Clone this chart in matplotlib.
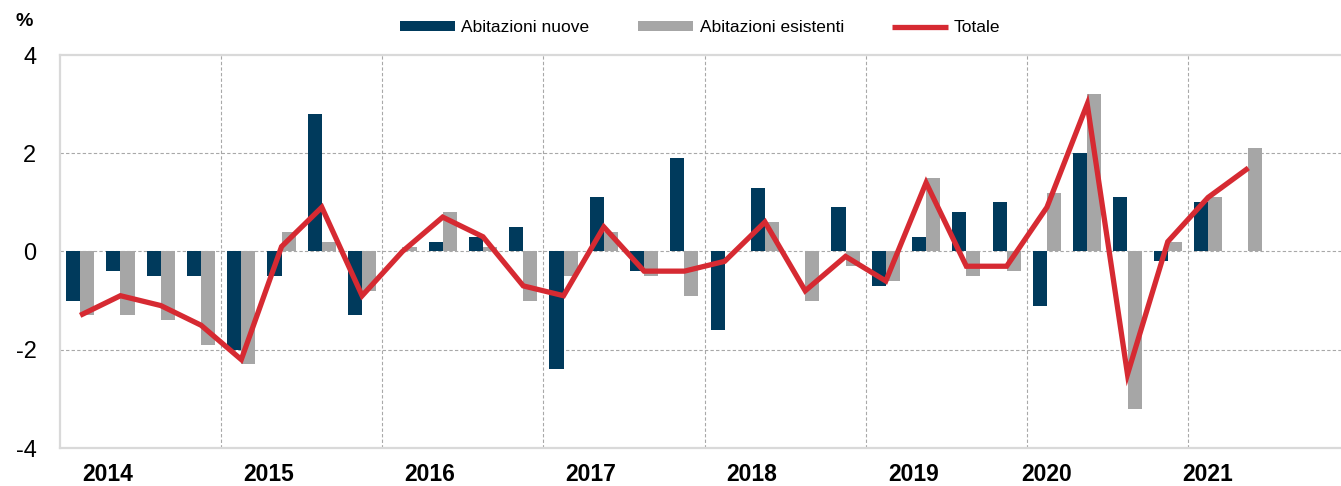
"""Variazioni trimestrali dei prezzi delle abitazioni: nuove, esistenti e totale."""
import matplotlib
matplotlib.use("Agg")
import matplotlib.pyplot as plt
import numpy as np

# categorie: trimestri 2014T1 - 2021T2
years = ["2014", "2015", "2016", "2017", "2018", "2019", "2020", "2021"]
quarters = [f"{y}T{q}" for y in years for q in range(1, 5)][:30]

nuove = [-1.0, -0.4, -0.5, -0.5, -2.0, -0.5, 2.8, -1.3,
         0.0, 0.2, 0.3, 0.5, -2.4, 1.1, -0.4, 1.9,
         -1.6, 1.3, 0.0, 0.9, -0.7, 0.3, 0.8, 1.0,
         -1.1, 2.0, 1.1, -0.2, 1.0, 0.0]
esistenti = [-1.3, -1.3, -1.4, -1.9, -2.3, 0.4, 0.2, -0.8,
             0.1, 0.8, 0.1, -1.0, -0.5, 0.4, -0.5, -0.9,
             0.0, 0.6, -1.0, -0.3, -0.6, 1.5, -0.5, -0.4,
             1.2, 3.2, -3.2, 0.2, 1.1, 2.1]
totale = [-1.3, -0.9, -1.1, -1.5, -2.2, 0.1, 0.9, -0.9,
          0.0, 0.7, 0.3, -0.7, -0.9, 0.5, -0.4, -0.4,
          -0.2, 0.6, -0.8, -0.1, -0.6, 1.4, -0.3, -0.3,
          0.9, 3.0, -2.5, 0.2, 1.1, 1.7]

series_labels = ["Abitazioni nuove", "Abitazioni esistenti", "Totale"]
y_ticks = [-4, -2, 0, 2, 4]

NAVY = "#003A5C"
GREY = "#A6A6A6"
RED = "#D62A32"
FRAME = "#D9D9D9"
GRID = "#A8A8A8"

plt.rcParams["font.family"] = ["Liberation Sans", "DejaVu Sans"]

x = np.arange(len(quarters))
bar_w = 0.35
year_label_pos = [0.68, 4.68, 8.68, 12.68, 16.68, 20.7, 24.0, 28.0]
year_bounds = [3.5 + 4 * k for k in range(7)]

fig = plt.figure(figsize=(13.41, 4.86), dpi=100)
ax = fig.add_axes([60 / 1341, 38 / 486, 1 - 60 / 1341, 393 / 486])

for xb in year_bounds:
    ax.axvline(xb, color=GRID, lw=0.8, ls=(0, (3, 2)), zorder=0)
for yv in (-2, 0, 2):
    ax.axhline(yv, color=GRID, lw=0.8, ls=(0, (3, 2)), zorder=0)

b1 = ax.bar(x - bar_w / 2, nuove, width=bar_w, color=NAVY, zorder=2)
b2 = ax.bar(x + bar_w / 2, esistenti, width=bar_w, color=GREY, zorder=2)
l1, = ax.plot(x, totale, color=RED, lw=3.8, zorder=3,
              solid_joinstyle="miter", solid_capstyle="butt")

ax.set_xlim(-0.5, 31.3)
ax.set_ylim(-4, 4)
ax.set_yticks(y_ticks)
ax.set_yticklabels([str(v) for v in y_ticks], fontsize=17)
ax.set_xticks(year_label_pos)
ax.set_xticklabels(years, fontsize=16.5, fontweight="bold")
ax.tick_params(axis="both", length=0)
ax.tick_params(axis="y", pad=17)
ax.tick_params(axis="x", pad=11)

for side in ("left", "top", "bottom"):
    ax.spines[side].set_color(FRAME)
    ax.spines[side].set_linewidth(1.6)
ax.spines["right"].set_visible(False)

fig.text(15 / 1341, 1 - 22 / 486, "%", fontsize=14, fontweight="bold", va="center", ha="left")

fig.legend([b1, b2, l1], series_labels, loc="center", bbox_to_anchor=(700 / 1341, 1 - 28 / 486),
           ncol=3, frameon=False, fontsize=12.5, handlelength=3.2, handleheight=0.5,
           handletextpad=0.35, columnspacing=2.8)

fig.savefig("out.png", dpi=100)
